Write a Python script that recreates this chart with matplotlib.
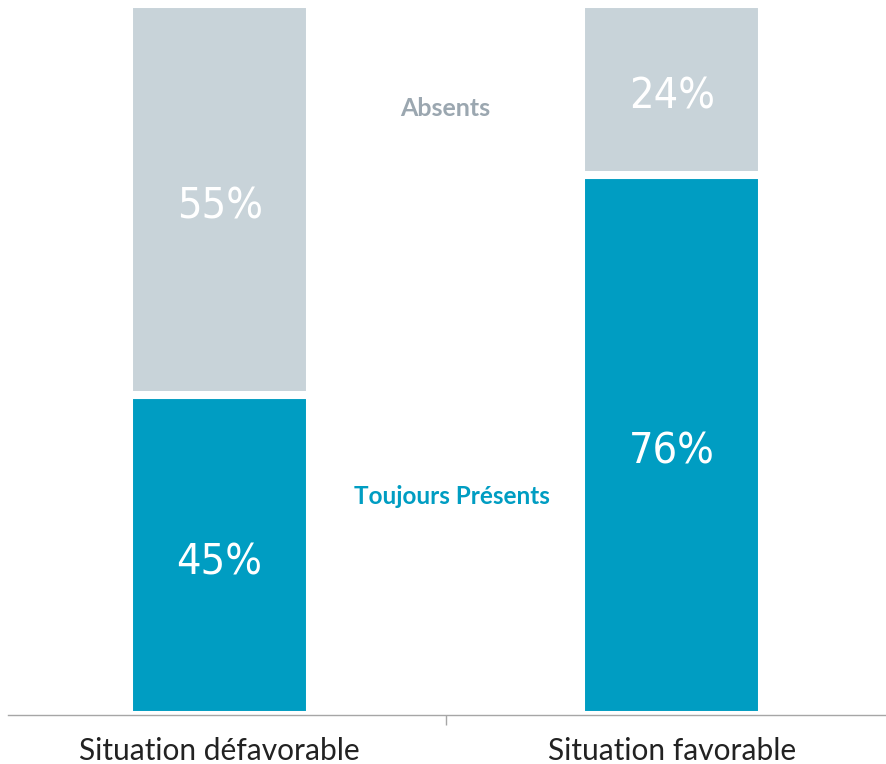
import matplotlib.pyplot as plt
import numpy as np

categories = ['Situation défavorable', 'Situation favorable']
presents = [45, 76]
absents = [55, 24]
labels_presents = ['45%', '76%']
labels_absents = ['55%', '24%']

blue = '#009dc2'
grey = '#c8d3d9'

fig = plt.figure(figsize=(8.86, 7.64), dpi=100)
ax = fig.add_axes([8 / 886, 49 / 764, 878 / 886, 711 / 764])

x = np.arange(len(categories))
ax.bar(x, presents, width=0.40, color=blue, edgecolor='white', linewidth=5.8)
ax.bar(x, absents, bottom=presents, width=0.40, color=grey, edgecolor='white', linewidth=5.8)

pct_font = dict(color='white', fontsize=31, family='DejaVu Sans',
                fontweight='normal', fontstretch='condensed', ha='center', va='center')
for i in range(len(categories)):
    ax.text(x[i], presents[i] / 2 - 1, labels_presents[i], **pct_font)
    ax.text(x[i], presents[i] + absents[i] / 2 - 1, labels_absents[i], **pct_font)

# legend-like labels between the bars
ax.text(0.5, 85.3, 'Absents', ha='center', va='center', color='#9ba7b0',
        fontsize=18, fontweight='bold', family='Lato')
ax.text(0.515, 30.8, 'Toujours Présents', ha='center', va='center', color=blue,
        fontsize=17.5, fontweight='bold', family='Lato')

ax.set_xlim(-0.468, 1.474)
ax.set_ylim(0, 100)
ax.set_xticks(x)
ax.set_xticklabels(categories, fontsize=21.5, family='Lato', color='#222222')
ax.tick_params(axis='x', length=0, pad=16)
ax.set_xticks([0.5], minor=True)
ax.tick_params(axis='x', which='minor', length=7, color='#a6a6a6', width=1)
ax.set_yticks([])
for s in ['top', 'right', 'left']:
    ax.spines[s].set_visible(False)
ax.spines['bottom'].set_color('#a6a6a6')
ax.spines['bottom'].set_linewidth(1)

fig.savefig('out.png', dpi=100)
